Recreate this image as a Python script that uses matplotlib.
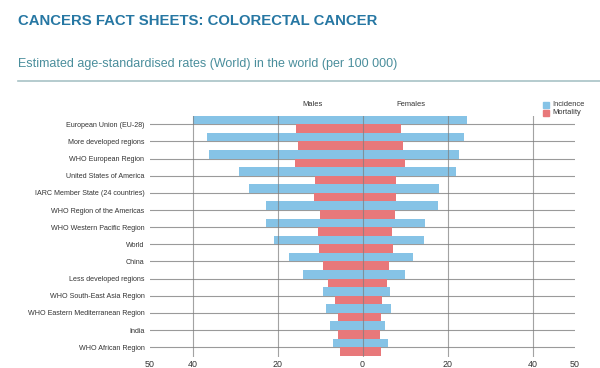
import matplotlib
matplotlib.use("Agg")
import matplotlib.pyplot as plt
import numpy as np
from matplotlib.patches import Rectangle

plt.rcParams['font.family'] = ['Liberation Sans', 'DejaVu Sans']

categories = [
    "European Union (EU-28)",
    "More developed regions",
    "WHO European Region",
    "United States of America",
    "IARC Member State (24 countries)",
    "WHO Region of the Americas",
    "WHO Western Pacific Region",
    "World",
    "China",
    "Less developed regions",
    "WHO South-East Asia Region",
    "WHO Eastern Mediterranean Region",
    "India",
    "WHO African Region",
]
male_incidence = [40.0, 36.7, 36.1, 29.0, 26.6, 22.7, 22.7, 20.9, 17.3, 14.0, 9.2, 8.7, 7.6, 7.0]
male_mortality = [15.6, 15.1, 16.0, 11.2, 11.5, 10.0, 10.4, 10.3, 9.4, 8.1, 6.5, 5.8, 5.8, 5.2]
female_incidence = [24.6, 23.8, 22.8, 22.1, 18.0, 17.7, 14.8, 14.5, 11.8, 10.0, 6.4, 6.8, 5.3, 5.9]
female_mortality = [9.1, 9.5, 9.9, 7.9, 7.9, 7.6, 7.0, 7.1, 6.3, 5.8, 4.6, 4.4, 4.0, 4.4]
xticks = [-50, -40, -20, 0, 20, 40, 50]
xticklabels = ["50", "40", "20", "0", "20", "40", "50"]
vlines = [-40, -20, 0, 20, 40]

BLUE = "#86c3e6"
RED = "#e8787a"
TITLE_C = "#2677a3"
SUB_C = "#4a8e9c"

fig = plt.figure(figsize=(6.0, 3.68), dpi=100)
fig.patch.set_facecolor("white")

left = 150 / 600
right = 575 / 600
top = 1 - 115.7 / 368
bottom = 1 - 357 / 368
ax = fig.add_axes([left, bottom, right - left, top - bottom])

y = np.arange(len(categories))
for yy in y:
    ax.axhline(yy, color="#9a9a9a", lw=0.8, zorder=1)

h = 0.5
ax.barh(y - 0.25, -np.array(male_incidence), height=h, color=BLUE, zorder=2)
ax.barh(y + 0.25, -np.array(male_mortality), height=h, color=RED, zorder=2)
ax.barh(y - 0.25, female_incidence, height=h, color=BLUE, zorder=2)
ax.barh(y + 0.25, female_mortality, height=h, color=RED, zorder=2)

for v in vlines:
    ax.axvline(v, color="#7d7d7d", lw=0.8, alpha=0.7, zorder=3)

ax.set_xlim(-50, 50)
ax.set_ylim(13.57, -0.5)
ax.set_yticks(y)
ax.set_yticklabels(categories, fontsize=5.1, color="#333333")
ax.set_xticks(xticks)
ax.set_xticklabels(xticklabels, fontsize=6.4, color="#333333")
ax.tick_params(axis="both", length=0)
ax.tick_params(axis="y", pad=4)
ax.tick_params(axis="x", pad=2)
for s in ax.spines.values():
    s.set_visible(False)
ax.set_facecolor("none")

# Males / Females labels
fig.text(313 / 600, 1 - 105 / 368, "Males", fontsize=5.4, color="#333333", ha="center", va="center")
fig.text(411 / 600, 1 - 105 / 368, "Females", fontsize=5.4, color="#333333", ha="center", va="center")

# Legend
for i, (lab, c) in enumerate([("Incidence", BLUE), ("Mortality", RED)]):
    yc = 105 + 8 * i
    fig.patches.append(Rectangle((543 / 600, 1 - (yc + 3) / 368), 6 / 600, 6 / 368,
                                 transform=fig.transFigure, color=c))
    fig.text(552 / 600, 1 - yc / 368, lab, fontsize=5.4, color="#333333", ha="left", va="center")

# Titles
fig.text(18 / 600, 1 - 21 / 368, "CANCERS FACT SHEETS: COLORECTAL CANCER",
         fontsize=10.75, fontweight="bold", color=TITLE_C, ha="left", va="center")
fig.text(18 / 600, 1 - 64 / 368, "Estimated age-standardised rates (World) in the world (per 100 000)",
         fontsize=9.0, color=SUB_C, ha="left", va="center")
fig.add_artist(plt.Line2D([18 / 600, 1.0], [1 - 81 / 368, 1 - 81 / 368],
                          transform=fig.transFigure, color="#a8c2c6", lw=1.2))

fig.savefig("out.png", dpi=100)
